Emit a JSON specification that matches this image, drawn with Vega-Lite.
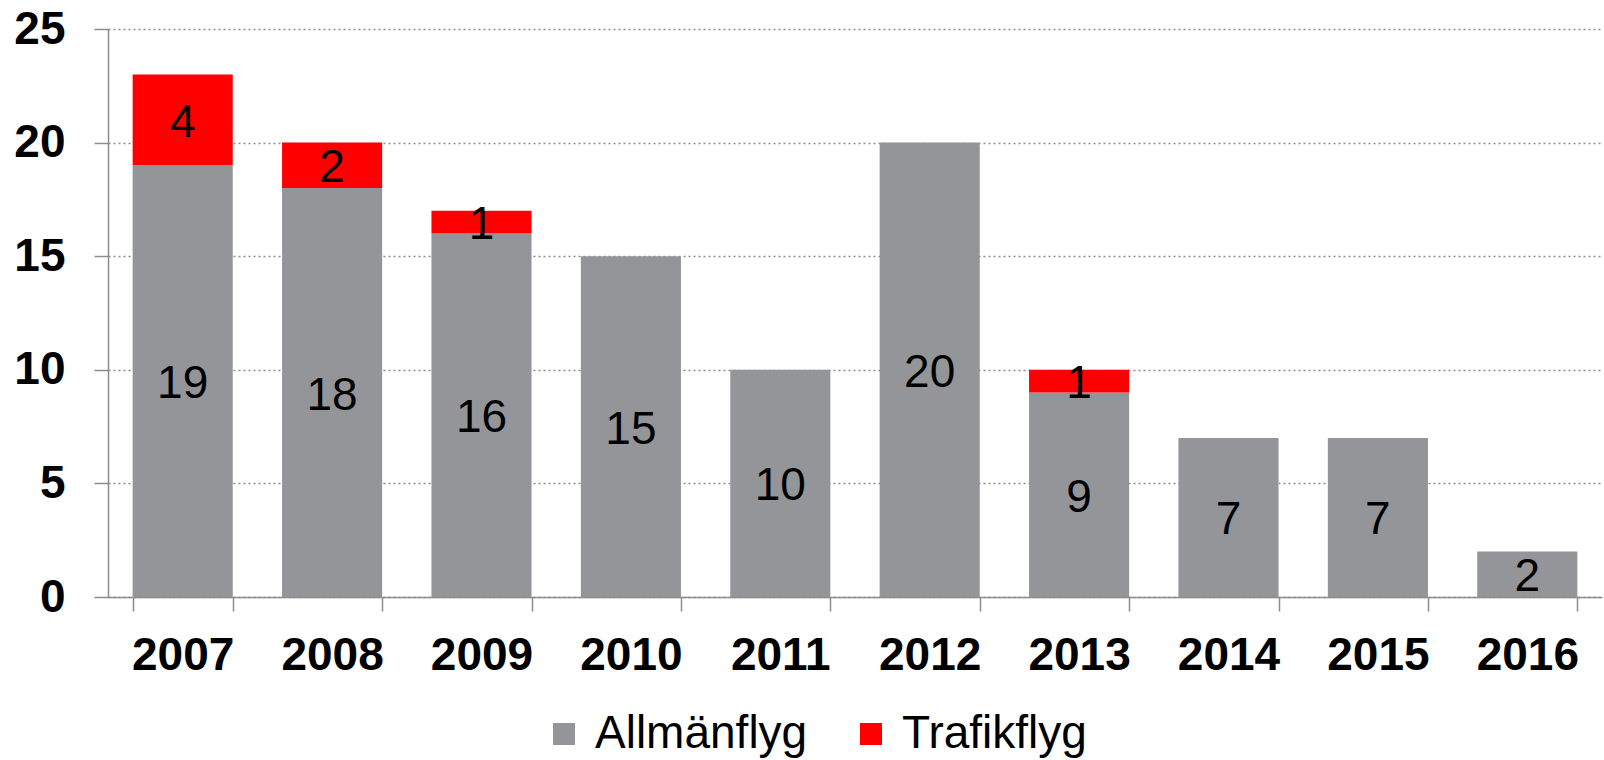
{
  "$schema": "https://vega.github.io/schema/vega-lite/v6.json",
  "width": 1494,
  "height": 568,
  "autosize": {"type": "none"},
  "padding": {"left": 108, "top": 29, "right": 2, "bottom": 163},
  "background": "white",
  "config": {
    "view": {"stroke": null},
    "font": "Liberation Sans"
  },
  "data": {
    "values": [
      {"year": "2007", "type": "Allmänflyg", "value": 19},
      {"year": "2007", "type": "Trafikflyg", "value": 4},
      {"year": "2008", "type": "Allmänflyg", "value": 18},
      {"year": "2008", "type": "Trafikflyg", "value": 2},
      {"year": "2009", "type": "Allmänflyg", "value": 16},
      {"year": "2009", "type": "Trafikflyg", "value": 1},
      {"year": "2010", "type": "Allmänflyg", "value": 15},
      {"year": "2011", "type": "Allmänflyg", "value": 10},
      {"year": "2012", "type": "Allmänflyg", "value": 20},
      {"year": "2013", "type": "Allmänflyg", "value": 9},
      {"year": "2013", "type": "Trafikflyg", "value": 1},
      {"year": "2014", "type": "Allmänflyg", "value": 7},
      {"year": "2015", "type": "Allmänflyg", "value": 7},
      {"year": "2016", "type": "Allmänflyg", "value": 2}
    ]
  },
  "transform": [
    {"stack": "value", "groupby": ["year"], "sort": [{"field": "type", "order": "ascending"}], "as": ["v0", "v1"]},
    {"calculate": "(datum.v0 + datum.v1) / 2", "as": "vmid"}
  ],
  "encoding": {
    "x": {
      "field": "year",
      "type": "nominal",
      "scale": {"paddingInner": 0.33, "paddingOuter": 0.165},
      "axis": {
        "title": null,
        "labelAngle": 0,
        "labelFont": "Liberation Sans",
        "labelFontWeight": "bold",
        "labelFontSize": 46,
        "labelColor": "black",
        "labelPadding": 22,
        "tickBand": "extent",
        "tickSize": 14,
        "tickColor": "#8c8c8c",
        "tickWidth": 1.5,
        "domainColor": "#8c8c8c",
        "domainWidth": 1.5,
        "grid": false
      }
    }
  },
  "layer": [
    {
      "mark": {"type": "bar"},
      "encoding": {
        "y": {
          "field": "v0",
          "type": "quantitative",
          "scale": {"domain": [0, 25], "nice": false},
          "axis": {
            "title": null,
            "values": [0, 5, 10, 15, 20, 25],
            "labelFont": "Liberation Sans",
            "labelFontWeight": "bold",
            "labelFontSize": 46,
            "labelColor": "black",
            "labelPadding": 29,
            "tickSize": 14,
            "tickColor": "#8c8c8c",
            "tickWidth": 1.5,
            "domainColor": "#8c8c8c",
            "domainWidth": 1.5,
            "grid": true,
            "gridColor": "#8c8c8c",
            "gridDash": [2, 3],
            "gridWidth": 1.5
          }
        },
        "y2": {"field": "v1"},
        "color": {
          "field": "type",
          "type": "nominal",
          "scale": {"domain": ["Allmänflyg", "Trafikflyg"], "range": ["#939598", "#ff0000"]},
          "legend": {
            "title": null,
            "orient": "none",
            "direction": "horizontal",
            "legendX": 433,
            "legendY": 682,
            "padding": 0,
            "symbolType": "square",
            "symbolSize": 484,
            "symbolStrokeWidth": 0,
            "symbolOpacity": 1,
            "labelFont": "Liberation Sans",
            "labelFontSize": 46,
            "labelColor": "black",
            "labelLimit": 0,
            "labelOffset": 8,
            "columnPadding": 40
          }
        }
      }
    },
    {
      "mark": {"type": "text", "font": "Liberation Sans", "fontSize": 46, "color": "black", "baseline": "middle", "dy": 3},
      "encoding": {
        "y": {"field": "vmid", "type": "quantitative"},
        "text": {"field": "value", "type": "quantitative"}
      }
    }
  ]
}
